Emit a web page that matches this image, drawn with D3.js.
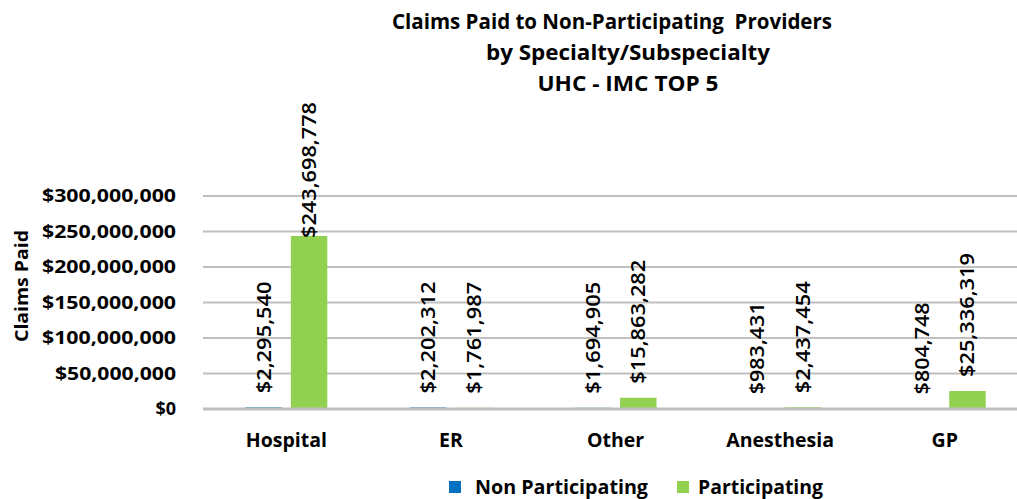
<!DOCTYPE html>
<html>
<head>
<meta charset="utf-8">
<script src="https://cdn.jsdelivr.net/npm/d3@7"></script>
<style>
  body { margin: 0; background: #fff; }
  text { font-family: "Open Sans", "Noto Sans", sans-serif; fill: #000; }
</style>
</head>
<body>
<div id="viz"></div>
<script>
// chart data
var categories = ["Hospital", "ER", "Other", "Anesthesia", "GP"];
var seriesNames = ["Non Participating", "Participating"];
var nonParticipating = [2295540, 2202312, 1694905, 983431, 804748];
var participating = [243698778, 1761987, 15863282, 2437454, 25336319];
var yTicks = [0, 50000000, 100000000, 150000000, 200000000, 250000000, 300000000];
var titleLines = ["Claims Paid to Non-Participating  Providers", "by Specialty/Subspecialty", "UHC - IMC TOP 5"];
var colors = ["#0070C0", "#92D050"];

var width = 1017, height = 499;
var plot = {left: 204, right: 1027, top: 196, bottom: 409};

var svg = d3.select("#viz").append("svg")
    .attr("width", width)
    .attr("height", height);

var x = d3.scaleBand()
    .domain(categories)
    .range([plot.left, plot.right]);

var xInner = d3.scaleBand()
    .domain(seriesNames)
    .range([x.bandwidth() / 2 - 41, x.bandwidth() / 2 + 41])
    .paddingInner(0.2);

var y = d3.scaleLinear()
    .domain([0, 300000000])
    .range([plot.bottom, plot.top]);

var fmt = function(v) { return "$" + d3.format(",")(v); };

// rough width of a label, like the Calibri labels in the original
function labelLen(s) {
    var n = 0;
    for (var i = 0; i < s.length; i++) n += (s[i] === "," ? 8 : 12);
    return n;
}

// gridlines (the zero line goes on top of the bars, later)
svg.append("g").selectAll("line")
    .data(yTicks.filter(function(d) { return d > 0; }))
    .enter().append("line")
    .attr("x1", plot.left - 1)
    .attr("x2", width)
    .attr("y1", function(d) { return y(d); })
    .attr("y2", function(d) { return y(d); })
    .style("stroke", "#c0c0c0")
    .style("stroke-width", 2);

// y axis labels
var yAxis = d3.axisLeft(y).tickValues(yTicks).tickSize(0).tickPadding(0)
    .tickFormat(function(d) { return fmt(d); });
var gy = svg.append("g")
    .attr("transform", "translate(176,0)")
    .call(yAxis);
gy.select(".domain").remove();
gy.selectAll("text")
    .attr("font-size", "18px")
    .attr("font-weight", "bold")
    .attr("font-family", "'Open Sans', sans-serif")
    .attr("textLength", function(d) { return d === 0 ? null : (d >= 100000000 ? 134 : 121); })
    .attr("lengthAdjust", "spacingAndGlyphs");

// y axis title
svg.append("text")
    .attr("transform", "translate(28,286) rotate(-90)")
    .attr("text-anchor", "middle")
    .attr("font-size", "17px")
    .attr("font-weight", "bold")
    .attr("textLength", 112)
    .attr("lengthAdjust", "spacingAndGlyphs")
    .text("Claims Paid");

// x axis labels
var gx = svg.append("g")
    .attr("transform", "translate(0," + plot.bottom + ")")
    .call(d3.axisBottom(x).tickSize(0).tickPadding(24));
gx.select(".domain").remove();
gx.selectAll("text")
    .attr("font-size", "19.5px")
    .attr("font-weight", "bold")
    .attr("font-family", "'Open Sans', sans-serif");

// bars + labels
var rows = categories.map(function(c, i) {
    return [
        {cat: c, s: seriesNames[0], v: nonParticipating[i], k: 0},
        {cat: c, s: seriesNames[1], v: participating[i], k: 1}
    ];
});
var flat = [].concat.apply([], rows);

svg.append("g").selectAll("rect")
    .data(flat)
    .enter().append("rect")
    .attr("x", function(d) { return x(d.cat) + xInner(d.s); })
    .attr("y", function(d) { return y(d.v); })
    .attr("width", xInner.bandwidth())
    .attr("height", function(d) { return plot.bottom - y(d.v); })
    .style("fill", function(d) { return colors[d.k]; });

// zero line
svg.append("line")
    .attr("x1", plot.left - 1)
    .attr("x2", width)
    .attr("y1", y(0))
    .attr("y2", y(0))
    .style("stroke", "#c0c0c0")
    .style("stroke-width", 3);

svg.append("g").selectAll("text")
    .data(flat)
    .enter().append("text")
    .attr("transform", function(d) {
        var cx = x(d.cat) + xInner(d.s) + xInner.bandwidth() / 2 + 7;
        var len = labelLen(fmt(d.v));
        var yy = y(d.v) - 14;
        if (yy - len < 102) yy = 102 + len;
        return "translate(" + cx + "," + yy + ") rotate(-90)";
    })
    .attr("font-size", "19px")
    .attr("font-weight", "600")
    .attr("textLength", function(d) { return labelLen(fmt(d.v)); })
    .attr("lengthAdjust", "spacingAndGlyphs")
    .text(function(d) { return fmt(d.v); });

// title
var titleX = [612, 628, 628];
var titleLen = [440, 284, 181];
svg.append("g").selectAll("text")
    .data(titleLines)
    .enter().append("text")
    .attr("x", function(d, i) { return titleX[i]; })
    .attr("y", function(d, i) { return 29 + i * 31; })
    .attr("text-anchor", "middle")
    .attr("font-size", "21px")
    .attr("font-weight", "bold")
    .attr("textLength", function(d, i) { return titleLen[i]; })
    .attr("lengthAdjust", "spacingAndGlyphs")
    .style("white-space", "pre")
    .text(function(d) { return d; });

// legend
var legendX = [449, 677];
var legendLen = [173, 125];
var lg = svg.append("g").selectAll("g")
    .data(seriesNames)
    .enter().append("g")
    .attr("transform", function(d, i) { return "translate(" + legendX[i] + ",481)"; });
lg.append("rect")
    .attr("width", 12).attr("height", 12)
    .style("fill", function(d, i) { return colors[i]; });
lg.append("text")
    .attr("x", function(d, i) { return i === 0 ? 26 : 21; })
    .attr("y", 13)
    .attr("font-size", "19px")
    .attr("font-weight", "bold")
    .attr("textLength", function(d, i) { return legendLen[i]; })
    .attr("lengthAdjust", "spacingAndGlyphs")
    .text(function(d) { return d; });
</script>
</body>
</html>
